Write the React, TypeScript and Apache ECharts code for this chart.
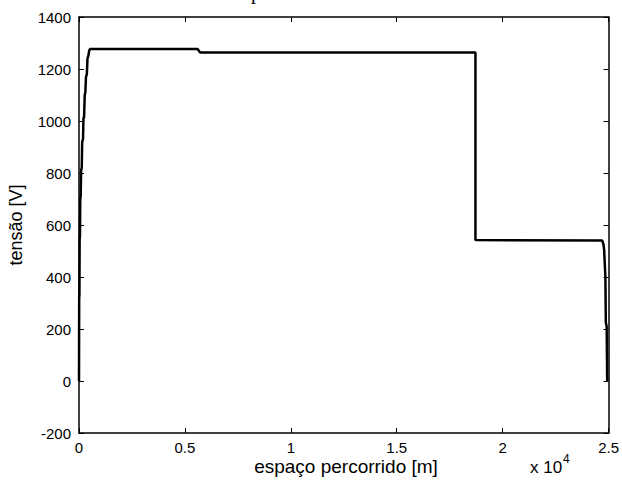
import React, { useEffect, useRef } from "react";
import * as echarts from "echarts";

// distance travelled [m]
const distance = [
  0, 8, 20, 30, 45, 60, 80, 100, 130, 150, 190, 210, 240, 270, 300, 330, 370, 400, 440, 480, 520,
  5600, 5720, 18715, 18715, 24700, 24760, 24790, 24850, 24870, 24910, 24935,
];
// voltage [V]
const voltage = [
  0, 320, 330, 545, 555, 700, 710, 810, 820, 920, 930, 1010, 1015, 1100, 1110, 1170, 1180, 1240, 1250, 1270, 1277,
  1277, 1263, 1263, 542, 540, 525, 505, 400, 225, 210, 0,
];

const xTicks = [0, 5000, 10000, 15000, 20000, 25000];
const xTickLabels = ["0", "0.5", "1", "1.5", "2", "2.5"];
const yTicks = [-200, 0, 200, 400, 600, 800, 1000, 1200, 1400];

const FONT = "'Liberation Sans', Arial, sans-serif";

export default function App() {
  const ref = useRef<HTMLDivElement>(null);
  useEffect(() => {
    if (!ref.current) return;
    const chart = echarts.init(ref.current, null, { renderer: "svg" });
    const data = distance.map((d, i) => [d, voltage[i]]);
    const axisLine = { show: true, onZero: false, lineStyle: { color: "#000", width: 1.5 } };
    const tick = { show: true, inside: true, length: 5, lineStyle: { color: "#000", width: 1 } };
    chart.setOption({
      animation: false,
      backgroundColor: "#fff",
      grid: { left: 79, right: 11, top: 17, bottom: 54 },
      xAxis: [
        {
          type: "value",
          min: xTicks[0],
          max: xTicks[xTicks.length - 1],
          interval: 5000,
          axisLine,
          axisTick: tick,
          splitLine: { show: false },
          axisLabel: {
            color: "#000",
            fontSize: 15,
            fontFamily: FONT,
            margin: 7,
            formatter: (v: number) => xTickLabels[xTicks.indexOf(v)] ?? String(v / 10000),
          },
        },
        {
          type: "value",
          position: "top",
          min: xTicks[0],
          max: xTicks[xTicks.length - 1],
          interval: 5000,
          axisLine,
          axisTick: tick,
          splitLine: { show: false },
          axisLabel: { show: false },
        },
      ],
      yAxis: [
        {
          type: "value",
          min: yTicks[0],
          max: yTicks[yTicks.length - 1],
          interval: 200,
          axisLine,
          axisTick: tick,
          splitLine: { show: false },
          axisLabel: {
            color: "#000",
            fontSize: 15,
            fontFamily: FONT,
            margin: 8,
            formatter: (v: number) => String(v),
          },
        },
        {
          type: "value",
          position: "right",
          min: yTicks[0],
          max: yTicks[yTicks.length - 1],
          interval: 200,
          axisLine,
          axisTick: tick,
          splitLine: { show: false },
          axisLabel: { show: false },
        },
      ],
      series: [
        {
          type: "line",
          data,
          showSymbol: false,
          lineStyle: { color: "#000", width: 2.5 },
          silent: true,
        },
      ],
      graphic: [
        {
          type: "text",
          x: 346,
          y: 466,
          style: {
            text: "espaço percorrido [m]",
            fontSize: 19,
            fontFamily: FONT,
            fill: "#000",
            align: "center",
            verticalAlign: "middle",
          },
        },
        {
          type: "text",
          x: 16,
          y: 225,
          rotation: Math.PI / 2,
          style: {
            text: "tensão [V]",
            fontSize: 18,
            fontFamily: FONT,
            fill: "#000",
            align: "center",
            verticalAlign: "middle",
          },
        },
        {
          type: "text",
          x: 530,
          y: 467,
          style: {
            text: "x 10",
            fontSize: 17,
            fontFamily: FONT,
            fill: "#000",
            align: "left",
            verticalAlign: "middle",
          },
        },
        {
          type: "text",
          x: 563,
          y: 459,
          style: {
            text: "4",
            fontSize: 12,
            fontFamily: FONT,
            fill: "#000",
            align: "left",
            verticalAlign: "middle",
          },
        },
        {
          type: "text",
          x: 256,
          y: 2,
          style: {
            text: "p",
            fontSize: 20,
            fontFamily: "'Liberation Serif', 'Times New Roman', serif",
            fill: "#000",
            align: "center",
            verticalAlign: "bottom",
          },
        },
      ],
    });
    return () => chart.dispose();
  }, []);
  return <div ref={ref} style={{ width: 622, height: 487, position: "absolute", left: 0, top: 0 }} />;
}
